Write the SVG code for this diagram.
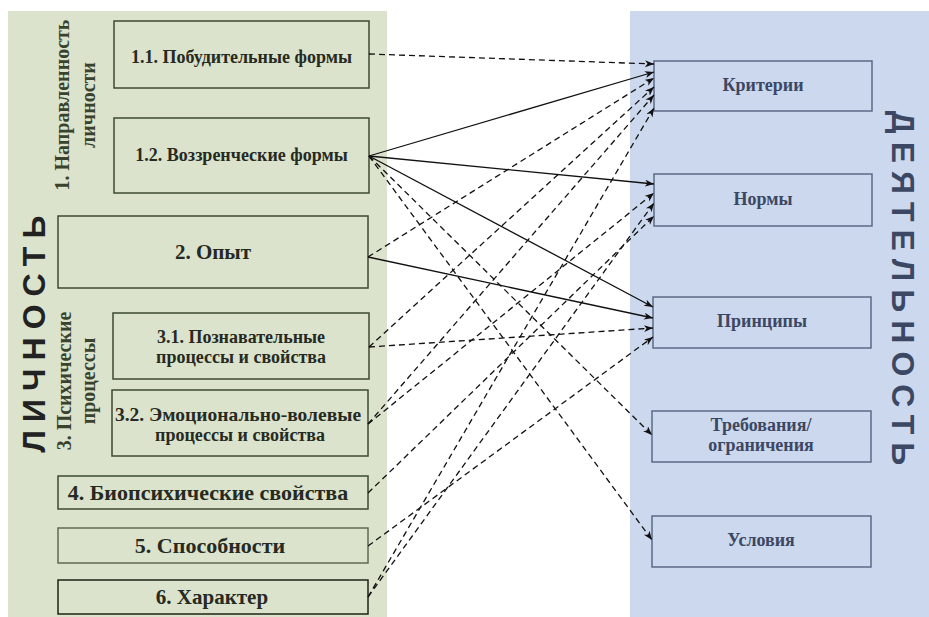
<svg xmlns="http://www.w3.org/2000/svg" width="929" height="617" viewBox="0 0 929 617">
<style>
.lp{fill:#dbe3cc}
.rp{fill:#ccd8ee}
.lb{fill:none;stroke:#3e4a30;stroke-width:1.5}
.rb{fill:none;stroke:#5b6a88;stroke-width:1.5}
.lt{font-family:"Liberation Serif",serif;font-weight:bold;fill:#262a22;text-anchor:middle}
.s18{font-size:18px}
.s21{font-size:21px}
.s22{font-size:22px}
.rt{font-family:"Liberation Serif",serif;font-weight:bold;font-size:18px;fill:#3c4863;text-anchor:middle}
.gt{font-family:"Liberation Serif",serif;font-weight:bold;font-size:20px;fill:#38422c;text-anchor:middle}
.big{font-family:"Liberation Sans",Arial,sans-serif;font-weight:bold;font-size:32px;letter-spacing:8px;text-anchor:middle}
.sl{fill:none;stroke:#111;stroke-width:1.3;marker-end:url(#ah)}
.dl{fill:none;stroke:#111;stroke-width:1.3;stroke-dasharray:6 4;marker-end:url(#ah)}
</style>
<defs>
<marker id="ah" markerUnits="userSpaceOnUse" markerWidth="10" markerHeight="8" refX="9" refY="3.5" orient="auto">
<path d="M0,0 L9,3.5 L0,7 L2.5,3.5 z" fill="#111"/>
</marker>
</defs>

<g id="panel-lichnost">
<rect class="lp" x="8" y="11" width="379" height="606"/>
<text class="big" fill="#222" transform="translate(45,330) rotate(-90)">ЛИЧНОСТЬ</text>
<text class="gt" transform="translate(69,105) rotate(-90)">1. Направленность</text>
<text class="gt" transform="translate(95,105) rotate(-90)">личности</text>
<text class="gt" transform="translate(71,381) rotate(-90)">3. Психические</text>
<text class="gt" transform="translate(95,381) rotate(-90)">процессы</text>
</g>

<g id="panel-deyatelnost">
<rect class="rp" x="630" y="11" width="299" height="606"/>
<text class="big" fill="#3c4863" transform="translate(892,292) rotate(90)">ДЕЯТЕЛЬНОСТЬ</text>
</g>

<g id="n11"><rect class="lb" x="114" y="21" width="255" height="67"/><text class="lt s18" x="241.5" y="63">1.1. Побудительные формы</text></g>
<g id="n12"><rect class="lb" x="114" y="118" width="255" height="75"/><text class="lt s18" x="241.5" y="161">1.2. Воззренческие формы</text></g>
<g id="n2"><rect class="lb" x="58" y="216" width="310" height="72"/><text class="lt s21" x="213" y="259">2. Опыт</text></g>
<g id="n31"><rect class="lb" x="113" y="313" width="256" height="66"/><text class="lt s18" x="241" y="343">3.1. Познавательные</text><text class="lt s18" x="241" y="363">процессы и свойства</text></g>
<g id="n32"><rect class="lb" x="112" y="390" width="256" height="66"/><text class="lt" style="font-size:19.5px" x="238" y="421">3.2. Эмоционально-волевые</text><text class="lt s18" x="240" y="441">процессы и свойства</text></g>
<g id="n4"><rect class="lb" x="58" y="476" width="310" height="33"/><text class="lt s22" x="208" y="500">4. Биопсихические свойства</text></g>
<g id="n5"><rect class="lb" x="58" y="528" width="310" height="35" style="stroke:#5f6a55"/><text class="lt s22" x="210" y="553">5. Способности</text></g>
<g id="n6"><rect class="lb" x="58" y="580" width="310" height="34" style="stroke:#1e2414"/><text class="lt s21" x="212" y="604">6. Характер</text></g>

<g id="r1"><rect class="rb" x="654" y="61" width="218" height="50"/><text class="rt" x="763" y="91">Критерии</text></g>
<g id="r2"><rect class="rb" x="654" y="174" width="218" height="52"/><text class="rt" x="763" y="205">Нормы</text></g>
<g id="r3"><rect class="rb" x="653" y="297" width="218" height="51"/><text class="rt" x="762" y="327">Принципы</text></g>
<g id="r4"><rect class="rb" x="652" y="411" width="219" height="51"/><text class="rt" x="761" y="431">Требования/</text><text class="rt" x="761" y="451">ограничения</text></g>
<g id="r5"><rect class="rb" x="652" y="516" width="219" height="51"/><text class="rt" x="761" y="546">Условия</text></g>

<g id="connectors">
<line class="sl" x1="369" y1="156" x2="654" y2="72"/>
<line class="sl" x1="369" y1="156" x2="654" y2="184"/>
<line class="sl" x1="369" y1="156" x2="653" y2="307"/>
<line class="sl" x1="368" y1="257" x2="653" y2="318"/>
<line class="dl" x1="369" y1="54" x2="654" y2="64"/>
<line class="dl" x1="368" y1="257" x2="654" y2="78"/>
<line class="dl" x1="369" y1="347" x2="654" y2="87"/>
<line class="dl" x1="368" y1="424" x2="654" y2="95"/>
<line class="dl" x1="368" y1="597" x2="654" y2="108"/>
<line class="dl" x1="368" y1="424" x2="654" y2="193"/>
<line class="dl" x1="368" y1="597" x2="654" y2="203"/>
<line class="dl" x1="368" y1="493" x2="654" y2="216"/>
<line class="dl" x1="369" y1="347" x2="653" y2="328"/>
<line class="dl" x1="368" y1="546" x2="653" y2="337"/>
<line class="dl" x1="369" y1="156" x2="652" y2="435"/>
<line class="dl" x1="369" y1="156" x2="652" y2="540"/>
</g>
</svg>
